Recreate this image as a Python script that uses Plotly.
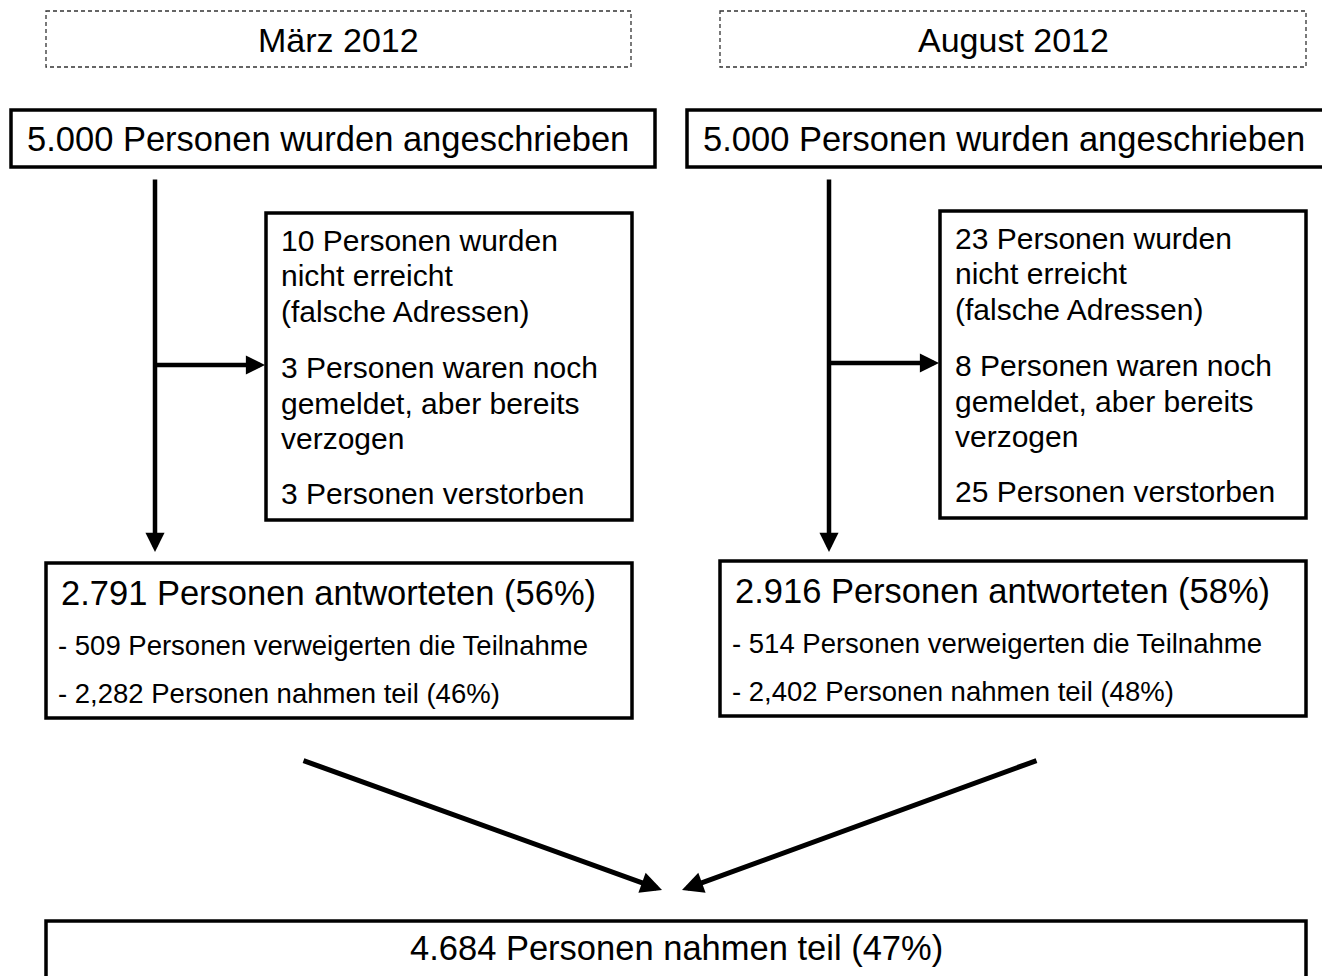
import plotly.graph_objects as go

# ---- data ----
periods = ["März 2012", "August 2012"]
contacted = ["5.000", "5.000"]
not_reached = ["10", "23"]
moved = ["3", "8"]
deceased = ["3", "25"]
responded = ["2.791", "2.916"]
responded_pct = ["56%", "58%"]
refused = ["509", "514"]
participated = ["2,282", "2,402"]
participated_pct = ["46%", "48%"]
total_participated = "4.684"
total_pct = "47%"

FONT = "Liberation Sans, Arial, sans-serif"

# page body has an 8px margin; shift the axis ranges so that pixel coords match the window
OFF = 8

# column layout (pixel positions)
cols = [
    dict(hx0=46, hx1=631, tx0=11, tx1=655, vx=155, sx0=266, sx1=632, rx0=46, rx1=632, dy=0),
    dict(hx0=720, hx1=1306, tx0=687, tx1=1350, vx=829, sx0=940, sx1=1306, rx0=720, rx1=1306, dy=-2),
]

fig = go.Figure()
shapes = []
ann = []

def text(x, y, s, size, xanchor="left"):
    ann.append(dict(x=x, y=y, xref="x", yref="y", text=s, showarrow=False,
                    xanchor=xanchor, yanchor="middle",
                    font=dict(family=FONT, size=size, color="black")))

def arrow(x0, y0, x1, y1, w=4.5):
    ann.append(dict(x=x1, y=y1, ax=x0, ay=y0, xref="x", yref="y", axref="x", ayref="y",
                    text="", showarrow=True, arrowhead=2, arrowsize=0.85, arrowwidth=w,
                    arrowcolor="black"))

for i, c in enumerate(cols):
    dy = c["dy"]
    # header (dashed)
    shapes.append(dict(type="rect", x0=c["hx0"], x1=c["hx1"], y0=11, y1=67, xref="x", yref="y",
                       line=dict(color="#333", width=1.3, dash="4px,3px")))
    text((c["hx0"] + c["hx1"]) / 2, 40, periods[i], 34, xanchor="center")
    # contacted box
    shapes.append(dict(type="rect", x0=c["tx0"], x1=c["tx1"], y0=110, y1=167, xref="x", yref="y",
                       line=dict(color="black", width=3.5)))
    text(c["tx0"] + 14, 139, f"{contacted[i]} Personen wurden angeschrieben", 34.5)
    # vertical arrow
    arrow(c["vx"], 178, c["vx"], 552)
    # side arrow
    arrow(c["vx"], 365 + dy, c["sx0"] - 1, 365 + dy)
    # side box
    shapes.append(dict(type="rect", x0=c["sx0"], x1=c["sx1"], y0=213 + dy, y1=520 + dy, xref="x", yref="y",
                       line=dict(color="black", width=3.5)))
    lines = [
        (240, f"{not_reached[i]} Personen wurden"),
        (275, "nicht erreicht"),
        (311, "(falsche Adressen)"),
        (367, f"{moved[i]} Personen waren noch"),
        (403, "gemeldet, aber bereits"),
        (438, "verzogen"),
        (493, f"{deceased[i]} Personen verstorben"),
    ]
    for yy, s in lines:
        text(c["sx0"] + 13, yy + dy, s, 30)
    # response box
    shapes.append(dict(type="rect", x0=c["rx0"], x1=c["rx1"], y0=563 + dy, y1=718 + dy, xref="x", yref="y",
                       line=dict(color="black", width=3.5)))
    text(c["rx0"] + 13, 593 + dy, f"{responded[i]} Personen antworteten ({responded_pct[i]})", 34.5)
    text(c["rx0"] + 10, 645 + dy, f"- {refused[i]} Personen verweigerten die Teilnahme", 27.5)
    text(c["rx0"] + 10, 693 + dy, f"- {participated[i]} Personen nahmen teil ({participated_pct[i]})", 27.5)

# merge arrows
arrow(302, 760, 662, 890, w=5)
arrow(1038, 760, 682, 890, w=5)

# total box
shapes.append(dict(type="rect", x0=46, x1=1306, y0=921, y1=1010, xref="x", yref="y",
                   line=dict(color="black", width=3.5)))
text(676, 948, f"{total_participated} Personen nahmen teil ({total_pct})", 34.5, xanchor="center")

fig.update_layout(
    width=1330, height=976,
    margin=dict(l=0, r=0, t=0, b=0),
    paper_bgcolor="white", plot_bgcolor="white",
    xaxis=dict(range=[OFF, 1330 + OFF], visible=False, fixedrange=True),
    yaxis=dict(range=[976 + OFF, OFF], visible=False, fixedrange=True),
    shapes=shapes, annotations=ann, showlegend=False,
)
fig.write_html("out.html")
